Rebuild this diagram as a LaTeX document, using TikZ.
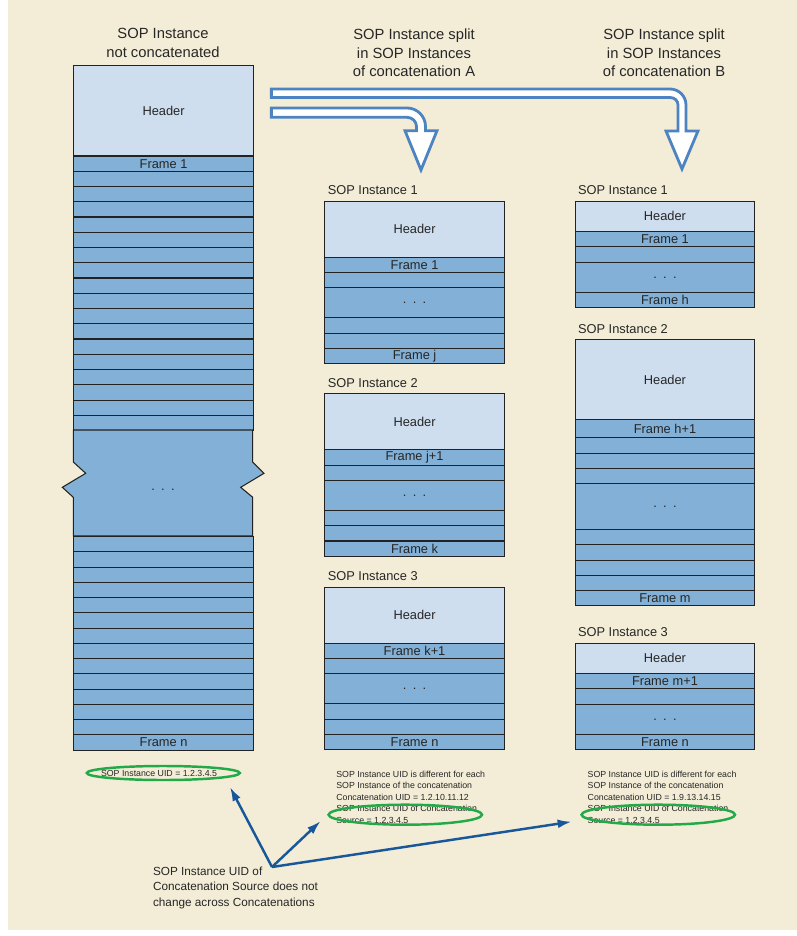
\documentclass[tikz,border=0pt]{standalone}
\usepackage{fontspec}
\setmainfont{Liberation Sans}
\usetikzlibrary{shapes.geometric,arrows.meta}

\definecolor{paper}{RGB}{243,237,215}
\definecolor{hdrblue}{RGB}{206,222,239}
\definecolor{frmblue}{RGB}{131,176,214}
\definecolor{edge}{RGB}{34,34,34}
\definecolor{pipeblue}{RGB}{76,131,192}
\definecolor{callblue}{RGB}{24,88,154}
\definecolor{ringgreen}{RGB}{34,170,72}

\newcommand\ttlfont{\fontsize{8.4}{10.8}\selectfont}
\newcommand\boxfont{\fontsize{7.3}{8.8}\selectfont}
\newcommand\notefont{\fontsize{5}{6.5}\selectfont}
\newcommand\capfont{\fontsize{6.7}{8.8}\selectfont}
\newcommand\dotrow{.\hspace{3.6pt}.\hspace{3.6pt}.}

\begin{document}
\begin{tikzpicture}[
  x=0.02cm, y=-0.02cm, text=black!85,
  hdr/.style={draw=edge, line width=0.6pt, fill=hdrblue, anchor=north west, inner sep=0, minimum width=3.59cm, font=\boxfont},
  frm/.style={draw=edge, line width=0.6pt, fill=frmblue, anchor=north west, inner sep=0, minimum width=3.59cm, minimum height=0.305cm, font=\boxfont},
  ttl/.style={anchor=north, align=center, font=\ttlfont, inner sep=0},
  inst/.style={anchor=base west, font=\boxfont, inner sep=0},
  note/.style={anchor=north west, align=left, font=\notefont, inner sep=0},
  ring/.style={ellipse, draw=ringgreen, line width=1.4pt, inner sep=0},
  pipe/.style={draw=pipeblue, line width=1.6pt, fill=white, line join=miter},
  callout/.style={draw=callblue, line width=1.4pt, -{Latex[length=8pt,width=5pt]}}
]
% page
\fill[white] (0,0) rectangle (797,936);
\fill[paper] (8,0) rectangle (797,930);
\useasboundingbox (0,0) rectangle (797,936);

% titles
\node[ttl] (t0) at (163,28) {SOP Instance\\not concatenated};
\node[ttl] (tA) at (414,28) {SOP Instance split\\in SOP Instances\\of concatenation A};
\node[ttl] (tB) at (664,28) {SOP Instance split\\in SOP Instances\\of concatenation B};

% hollow arrows
\draw[pipe] (271.4,89) -- (670,89) .. controls (678.8,89) and (686,96.2) .. (686,105) -- (686,131) -- (698,131) -- (682,169) -- (666,131) -- (678,131) -- (678,105) .. controls (678,100.6) and (674.4,97.5) .. (670,97.5) -- (271.4,97.5) -- cycle;
\draw[pipe] (271.4,108) -- (407,108) .. controls (417.2,108) and (425.5,116.3) .. (425.5,126.5) -- (425.5,130.7) -- (437,130.7) -- (421,170) -- (405,130.7) -- (416.5,130.7) -- (416.5,126.5) .. controls (416.5,121.4) and (412.1,117.3) .. (407,117.3) -- (271.4,117.3) -- cycle;

% not concatenated
\node[hdr, minimum height=1.81cm] (h0) at (73.3,65) {Header};
\node[frm] (f0) at (73.3,155.5) {Frame 1};
\foreach \i in {1,...,17}
  \node[frm] (f\i) at (73.3,155.5+\i*15.25) {};
\draw[draw=edge, line width=0.6pt, fill=frmblue] (73.3,430) -- (252.7,430) -- (252.7,462) -- (264,473.3) -- (240.7,487.3) -- (252.7,497.3) -- (252.7,536) -- (73.3,536) -- (73.3,497.3) -- (62.3,487.3) -- (85.7,473.3) -- (73.3,462) -- cycle;
\node[font=\boxfont, inner sep=0] (gap0) at (163,490) {\dotrow};
\foreach \i in {0,...,12}
  \node[frm] (g\i) at (73.3,536+\i*15.25) {};
\node[frm] (fn) at (73.3,734.25) {Frame n};

% concatenation A
\foreach \y/\n/\first/\last in {200.7/1/Frame 1/Frame j, 393.3/2/Frame j+1/Frame k, 586.7/3/Frame k+1/Frame n} {
  \node[inst] (a\n) at (327.5,\y-6) {SOP Instance \n};
  \node[hdr, minimum height=1.12cm] (a\n-h) at (324.3,\y) {Header};
  \node[frm] (a\n-f) at (324.3,\y+56) {\first};
  \node[frm] (a\n-e1) at (324.3,\y+71.3) {};
  \node[frm, minimum height=0.6cm] (a\n-d) at (324.3,\y+86.6) {\dotrow};
  \node[frm] (a\n-e2) at (324.3,\y+116.6) {};
  \node[frm] (a\n-e3) at (324.3,\y+131.9) {};
  \node[frm] (a\n-l) at (324.3,\y+147.2) {\last};
}

% concatenation B
\foreach \y/\n/\first/\last in {200.7/1/Frame 1/Frame h, 642.7/3/Frame m+1/Frame n} {
  \node[inst] (b\n) at (577.7,\y-6) {SOP Instance \n};
  \node[hdr, minimum height=0.6cm] (b\n-h) at (574.7,\y) {Header};
  \node[frm] (b\n-f) at (574.7,\y+30.3) {\first};
  \node[frm] (b\n-e) at (574.7,\y+45.6) {};
  \node[frm, minimum height=0.61cm] (b\n-d) at (574.7,\y+60.9) {\dotrow};
  \node[frm] (b\n-l) at (574.7,\y+91.4) {\last};
}
\node[inst] (b2) at (577.7,333) {SOP Instance 2};
\node[hdr, minimum height=1.606cm] (b2-h) at (574.7,339) {Header};
\node[frm, minimum height=0.36cm] (b2-f) at (574.7,419.3) {Frame h+1};
\foreach \i in {0,1,2}
  \node[frm] (b2-e\i) at (574.7,437.3+\i*15.3) {};
\node[frm, minimum height=0.922cm] (b2-d) at (574.7,483.2) {\dotrow};
\foreach \i in {0,...,3}
  \node[frm] (b2-g\i) at (574.7,529.3+\i*15.1) {};
\node[frm] (b2-l) at (574.7,589.7) {Frame m};

% UID notes
\node[anchor=west, font=\notefont, inner sep=0] (uid0) at (100.7,773) {SOP Instance UID = 1.2.3.4.5};
\node[note] (noteA) at (336,770.8) {SOP Instance UID is different for each\\SOP Instance of the concatenation\\Concatenation UID = 1.2.10.11.12\\SOP Instance UID of Concatenation\\Source = 1.2.3.4.5};
\node[note] (noteB) at (587.3,770.8) {SOP Instance UID is different for each\\SOP Instance of the concatenation\\Concatenation UID = 1.9.13.14.15\\SOP Instance UID of Concatenation\\Source = 1.2.3.4.5};
\node[ring, minimum width=3.06cm, minimum height=0.28cm] (ring0) at (163.3,773) {};
\node[ring, minimum width=3.07cm, minimum height=0.4cm] (ringA) at (405.3,814.7) {};
\node[ring, minimum width=3.07cm, minimum height=0.4cm] (ringB) at (658.3,814.7) {};

% callout
\node[anchor=north west, align=left, font=\capfont, inner sep=0] (cap) at (152.7,866.4) {SOP Instance UID of\\Concatenation Source does not\\change across Concatenations};
\coordinate (src) at (272,867);
\coordinate (tip0) at (230,787);
\coordinate (tipA) at (320.7,821);
\coordinate (tipB) at (571.7,821.7);
\draw[callout] (src) -- (tip0);
\draw[callout] (src) -- (tipA);
\draw[callout] (src) -- (tipB);
\end{tikzpicture}
\end{document}
